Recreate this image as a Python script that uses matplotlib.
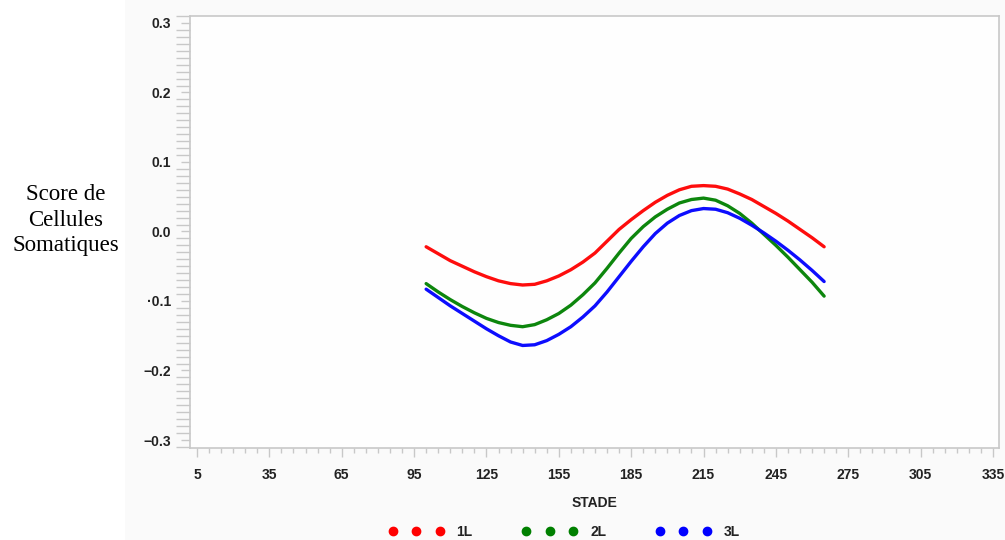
import matplotlib
matplotlib.use("Agg")
import matplotlib.pyplot as plt
from matplotlib.lines import Line2D
from matplotlib.patches import Rectangle
from matplotlib.ticker import MultipleLocator, FixedLocator

# ---- data ----
stade = [100, 105, 110, 115, 120, 125, 130, 135, 140, 145, 150, 155, 160, 165, 170, 175, 180,
         185, 190, 195, 200, 205, 210, 215, 220, 225, 230, 235, 240, 245, 250, 255, 260, 265]
score_1L = [-0.022, -0.032, -0.042, -0.050, -0.058, -0.065, -0.071, -0.075, -0.077, -0.076, -0.071,
            -0.064, -0.055, -0.044, -0.031, -0.014, 0.003, 0.017, 0.030, 0.042, 0.052, 0.060, 0.065,
            0.066, 0.065, 0.061, 0.054, 0.046, 0.036, 0.026, 0.015, 0.003, -0.009, -0.022]
score_2L = [-0.075, -0.087, -0.098, -0.108, -0.117, -0.125, -0.131, -0.135, -0.137, -0.134, -0.127,
            -0.118, -0.106, -0.091, -0.074, -0.053, -0.031, -0.010, 0.007, 0.021, 0.032, 0.041, 0.046,
            0.048, 0.045, 0.037, 0.026, 0.012, -0.004, -0.020, -0.037, -0.055, -0.073, -0.093]
score_3L = [-0.083, -0.095, -0.107, -0.118, -0.129, -0.140, -0.150, -0.159, -0.164, -0.163, -0.157,
            -0.148, -0.137, -0.123, -0.107, -0.087, -0.065, -0.043, -0.022, -0.003, 0.012, 0.023, 0.030,
            0.033, 0.032, 0.027, 0.019, 0.009, -0.002, -0.014, -0.027, -0.041, -0.056, -0.072]
series_names = ["1L", "2L", "3L"]
series_colors = ["#ff0000", "#008000", "#0000ff"]

xticks = [5, 35, 65, 95, 125, 155, 185, 215, 245, 275, 305, 335]
yticks = [0.3, 0.2, 0.1, 0.0, -0.1, -0.2, -0.3]
ytick_labels = ["0.3", "0.2", "0.1", "0.0", "\u00b70.1", "\u22120.2", "\u22120.3"]

W, H = 1005, 540
fig = plt.figure(figsize=(W / 100, H / 100), dpi=100)
fig.patch.set_facecolor("white")
# faint grey panel behind the graph area
fig.add_artist(Rectangle((125 / W, 0), 1 - 125 / W, 1, transform=fig.transFigure,
                         facecolor="#fafafa", edgecolor="none", zorder=-10))

ax = fig.add_axes([190 / W, 1 - 448 / H, (999 - 190) / W, (448 - 16) / H])
ax.set_facecolor("#fefefe")

for ys, c in zip([score_1L, score_2L, score_3L], series_colors):
    ax.plot(stade, ys, color=c, lw=2.4, solid_capstyle="round", solid_joinstyle="round", alpha=0.95)

ax.set_xlim(2.1, 337.5)
ax.set_ylim(-0.3115, 0.3100)

ax.xaxis.set_major_locator(FixedLocator(xticks))
ax.xaxis.set_minor_locator(MultipleLocator(5))
ax.set_yticks(yticks)
ax.set_yticklabels(ytick_labels)
ax.yaxis.set_minor_locator(MultipleLocator(0.01))

spine_col = "#c8c8c8"
for s in ax.spines.values():
    s.set_color(spine_col)
    s.set_linewidth(1.2)

ax.tick_params(axis="x", which="major", length=6.5, width=1.0, color=spine_col, pad=8, labelsize=10,
               labelcolor="#222222")
ax.tick_params(axis="x", which="minor", length=3.6, width=1.0, color=spine_col)
ax.tick_params(axis="y", which="major", length=6.5, width=1.0, color=spine_col, pad=7, labelsize=10,
               labelcolor="#222222")
ax.tick_params(axis="y", which="minor", length=10, width=1.0, color=spine_col)
for lab in ax.get_xticklabels() + ax.get_yticklabels():
    lab.set_fontfamily("Liberation Sans")
    lab.set_fontweight("bold")

ax.set_xlabel("STADE", fontfamily="Liberation Sans", fontweight="bold", fontsize=10,
              color="#222222", labelpad=10)

fig.text(66 / W, 1 - 220 / H, "Score de\nCellules\nSomatiques", ha="center", va="center",
         multialignment="center", fontfamily="Liberation Serif", fontsize=16.5, linespacing=1.28)

handles = [Line2D([], [], color=c, marker="o", linestyle="none", markersize=6) for c in series_colors]
leg = fig.legend(handles, series_names, loc="center", bbox_to_anchor=(564 / W, 1 - 532 / H),
                 ncol=3, numpoints=3, frameon=False, handlelength=4.0, handletextpad=0.9,
                 columnspacing=3.55, prop=dict(family="Liberation Sans", weight="bold", size=10))
for t in leg.get_texts():
    t.set_color("#222222")

fig.savefig("out.png", dpi=100, facecolor=fig.get_facecolor())
